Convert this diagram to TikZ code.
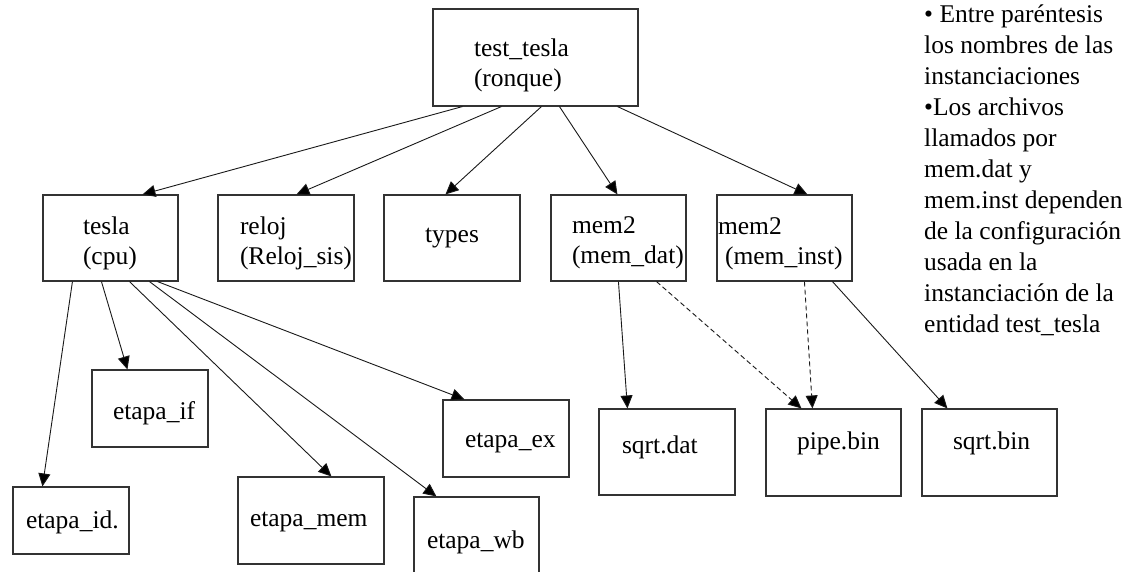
\documentclass[tikz,border=0pt]{standalone}
\usepackage{fontspec}
\setmainfont{Liberation Serif}
\usetikzlibrary{arrows.meta}
\newcommand{\myraise}[2]{\raisebox{#1}[\height][\depth]{#2}}
\begin{document}
\begin{tikzpicture}[x=1pt,y=-1pt,
  bx/.style={draw=black!80, line width=1.1pt, rectangle, inner ysep=0pt, align=left,
    font=\fontsize{25.5}{30}\selectfont},
  arr/.style={draw=black!90, line width=0.9pt, -{Triangle[length=13pt,width=12pt,fill=black]}},
  dsh/.style={arr, dash pattern=on 5pt off 3pt},
  note/.style={anchor=north west, inner sep=0pt, align=left, font=\fontsize{25.5}{31}\selectfont}]
\useasboundingbox (0,0) rectangle (1143,572);

% boxes
\node[bx, text width=123pt, inner xsep=41pt, minimum height=97pt] (tt) at (535.5,57.5)
  {\myraise{-8pt}{test\_tesla}\\\myraise{-8pt}{(ronque)}};
\node[bx, text width=55pt, inner xsep=40pt, minimum height=86pt] (tesla) at (110.5,238)
  {\myraise{-5pt}{tesla}\\\myraise{-5pt}{(cpu)}};
\node[bx, text width=92pt, inner xsep=22pt, minimum height=86pt] (reloj) at (286,238)
  {\myraise{-5pt}{reloj}\\\myraise{-5pt}{(Reloj\_sis)}};
\node[bx, align=center, text width=116pt, inner xsep=10pt, minimum height=86pt] (types) at (452,238)
  {types};
\node[bx, text width=93pt, inner xsep=21pt, minimum height=86pt] (mdat) at (618.5,238)
  {\myraise{-5pt}{mem2}\\\myraise{-5pt}{(mem\_dat)}};
\node[bx, text width=133pt, inner xsep=1pt, minimum height=86pt] (minst) at (784.5,238)
  {\myraise{-6pt}{mem2}\\\hspace*{7pt}\myraise{-6pt}{(mem\_inst)}};

\node[bx, text width=74pt, inner xsep=21pt, minimum height=77pt] (eif) at (150,408.5)
  {\myraise{-4.5pt}{etapa\_if}};
\node[bx, text width=90pt, inner xsep=13pt, minimum height=67pt] (eid) at (71,520.5)
  {\myraise{-1.5pt}{etapa\_id.}};
\node[bx, text width=122pt, inner xsep=12pt, minimum height=87pt] (emem) at (311,520.5)
  {\myraise{-1.5pt}{etapa\_mem}};
\node[bx, text width=99pt, inner xsep=13pt, minimum height=90pt] (ewb) at (476.5,542)
  {etapa\_wb};
\node[bx, text width=82pt, inner xsep=22pt, minimum height=77pt] (eex) at (506,438.5)
  {\myraise{-4.5pt}{etapa\_ex}};

\node[bx, text width=90pt, inner xsep=23pt, minimum height=86pt] (sdat) at (667,452)
  {\myraise{5pt}{sqrt.dat}};
\node[bx, text width=73pt, inner xsep=31pt, minimum height=87pt] (pipe) at (833.5,452.5)
  {\myraise{9.5pt}{pipe.bin}};
\node[bx, text width=73pt, inner xsep=31pt, minimum height=87pt] (sbin) at (989.5,452.5)
  {\myraise{9.5pt}{sqrt.bin}};

% note
\node[note] (nota) at (924,5) {• Entre paréntesis\\los nombres de las\\instanciaciones\\•Los archivos\\llamados por\\mem.dat y\\mem.inst dependen\\de la configuración\\usada en la\\instanciación de la\\entidad test\_tesla};

% connectors from test_tesla
\draw[arr] ([xshift=30pt]tt.south west) -- ([xshift=100pt]tesla.north west);
\draw[arr] ([xshift=69pt]tt.south west) -- ([xshift=79pt]reloj.north west);
\draw[arr] ([xshift=109pt]tt.south west) -- ([xshift=62pt]types.north west);
\draw[arr] ([xshift=127pt]tt.south west) -- ([xshift=67pt]mdat.north west);
\draw[arr] ([xshift=185pt]tt.south west) -- ([xshift=91pt]minst.north west);

% connectors from tesla
\draw[arr] ([xshift=30pt]tesla.south west) -- ([xshift=30pt]eid.north west);
\draw[arr] ([xshift=59pt]tesla.south west) -- ([xshift=36pt]eif.north west);
\draw[arr] ([xshift=87pt]tesla.south west) -- ([xshift=94pt]emem.north west);
\draw[arr] ([xshift=107pt]tesla.south west) -- ([xshift=23pt]ewb.north west);
\draw[arr] ([xshift=115pt]tesla.south west) -- ([xshift=22pt]eex.north west);

% connectors from mem2 boxes
\draw[arr] ([xshift=68pt]mdat.south west) -- ([xshift=29pt]sdat.north west);
\draw[dsh] ([xshift=106pt]mdat.south west) -- ([xshift=36pt]pipe.north west);
\draw[dsh] ([xshift=88pt]minst.south west) -- ([xshift=47pt]pipe.north west);
\draw[arr] ([xshift=116pt]minst.south west) -- ([xshift=26pt]sbin.north west);
\end{tikzpicture}
\end{document}
